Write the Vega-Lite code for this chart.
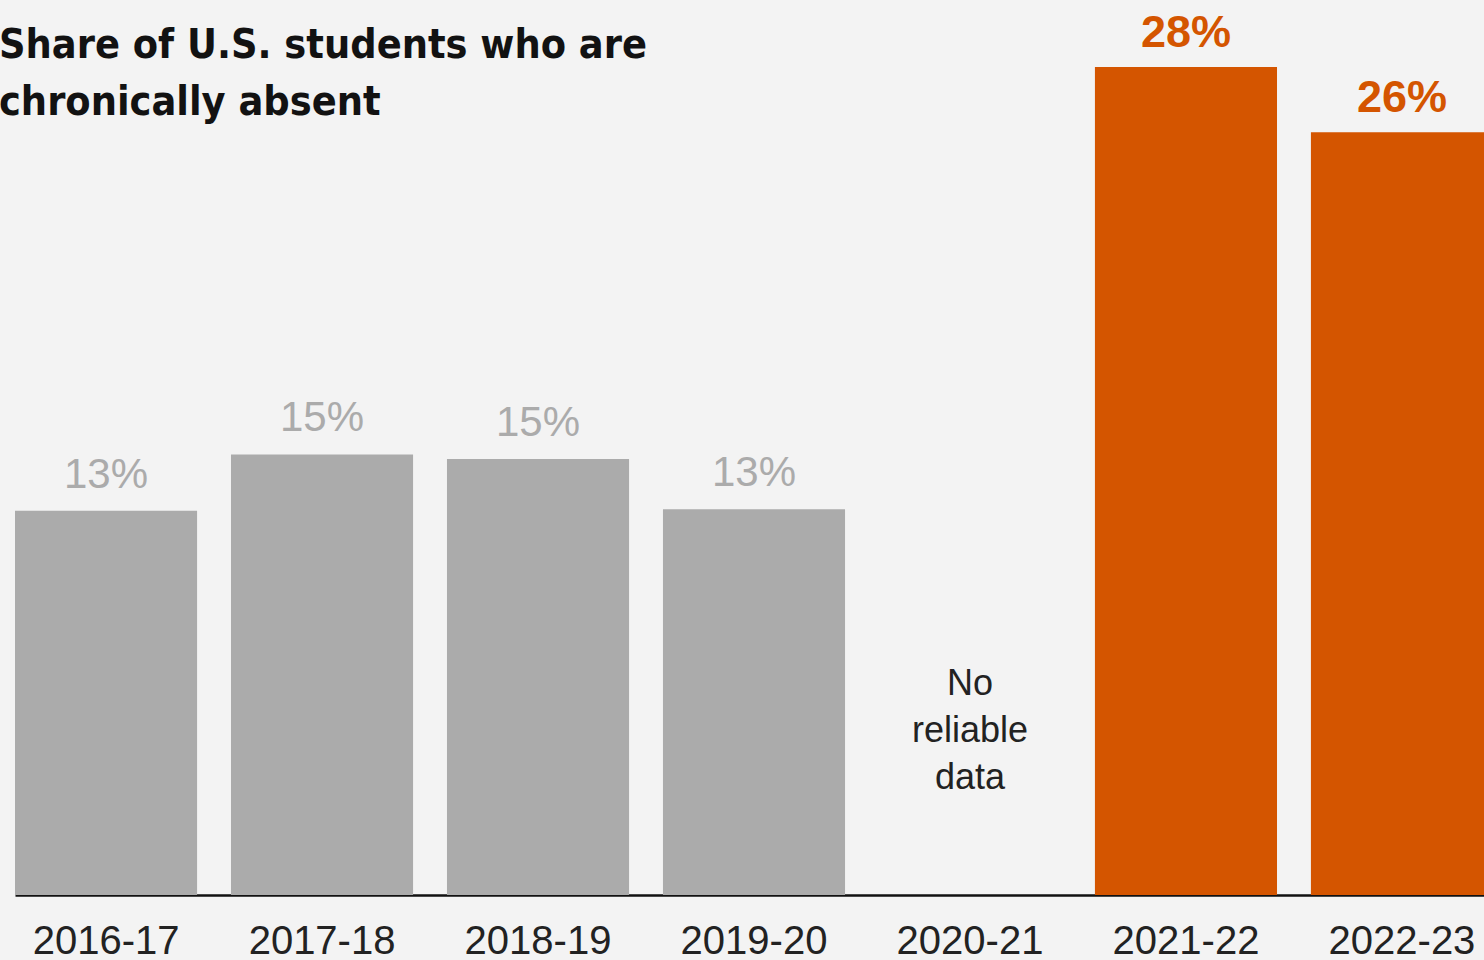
{
  "$schema": "https://vega.github.io/schema/vega-lite/v6.json",
  "autosize": {"type": "none"},
  "width": 1469,
  "height": 895,
  "padding": {"left": 15, "top": 0, "right": 0, "bottom": 65},
  "background": "#f3f3f3",
  "title": {
    "text": ["Share of U.S. students who are", "chronically absent"],
    "anchor": "start",
    "frame": "group",
    "orient": "top",
    "baseline": "alphabetic",
    "offset": -156,
    "dx": -16,
    "lineHeight": 57,
    "fontSize": 41,
    "font": "DejaVu Sans Condensed",
    "fontWeight": "bold",
    "color": "#121212"
  },
  "config": {"view": {"stroke": null}},
  "data": {
    "values": [
      {"year": "2016-17", "share": 13.0, "label": "13%", "highlight": "no", "note": ""},
      {"year": "2017-18", "share": 14.9, "label": "15%", "highlight": "no", "note": ""},
      {"year": "2018-19", "share": 14.75, "label": "15%", "highlight": "no", "note": ""},
      {"year": "2019-20", "share": 13.05, "label": "13%", "highlight": "no", "note": ""},
      {"year": "2020-21", "share": null, "label": "", "highlight": "none", "note": "No|reliable|data"},
      {"year": "2021-22", "share": 28.0, "label": "28%", "highlight": "yes", "note": ""},
      {"year": "2022-23", "share": 25.8, "label": "26%", "highlight": "yes", "note": ""}
    ]
  },
  "encoding": {
    "x": {
      "field": "year",
      "type": "nominal",
      "sort": ["2016-17", "2017-18", "2018-19", "2019-20", "2020-21", "2021-22", "2022-23"],
      "scale": {"domain": ["2016-17", "2017-18", "2018-19", "2019-20", "2020-21", "2021-22", "2022-23"], "range": [0, 1478], "paddingInner": 0.157, "paddingOuter": 0},
      "axis": {
        "title": null,
        "labelAngle": 0,
        "ticks": false,
        "labelPadding": 26,
        "labelFontSize": 40,
        "labelFont": "Liberation Sans",
        "labelColor": "#222222",
        "domainColor": "#111111",
        "domainWidth": 2.5,
        "grid": false
      }
    }
  },
  "layer": [
    {
      "transform": [{"filter": "datum.share != null"}],
      "mark": {"type": "bar"},
      "encoding": {
        "y": {"field": "share", "type": "quantitative", "scale": {"domain": [0, 30.27], "nice": false, "zero": true}, "axis": null},
        "color": {
          "field": "highlight",
          "type": "nominal",
          "scale": {"domain": ["no", "yes"], "range": ["#ababab", "#d45500"]},
          "legend": null
        }
      }
    },
    {
      "transform": [{"filter": "datum.highlight == 'no'"}],
      "mark": {"type": "text", "baseline": "alphabetic", "dy": -23, "fontSize": 42, "font": "Liberation Sans", "color": "#ababab"},
      "encoding": {
        "y": {"field": "share", "type": "quantitative"},
        "text": {"field": "label"}
      }
    },
    {
      "transform": [{"filter": "datum.highlight == 'yes'"}],
      "mark": {"type": "text", "baseline": "alphabetic", "dy": -20, "fontSize": 45, "font": "Liberation Sans", "fontWeight": "bold", "color": "#d45500"},
      "encoding": {
        "y": {"field": "share", "type": "quantitative"},
        "text": {"field": "label"}
      }
    },
    {
      "transform": [{"filter": "datum.highlight == 'none'"}],
      "mark": {"type": "text", "baseline": "middle", "lineBreak": "|", "lineHeight": 47, "fontSize": 36, "font": "Liberation Sans", "color": "#222222"},
      "encoding": {
        "y": {"datum": 7.14, "type": "quantitative"},
        "text": {"field": "note"}
      }
    }
  ]
}
